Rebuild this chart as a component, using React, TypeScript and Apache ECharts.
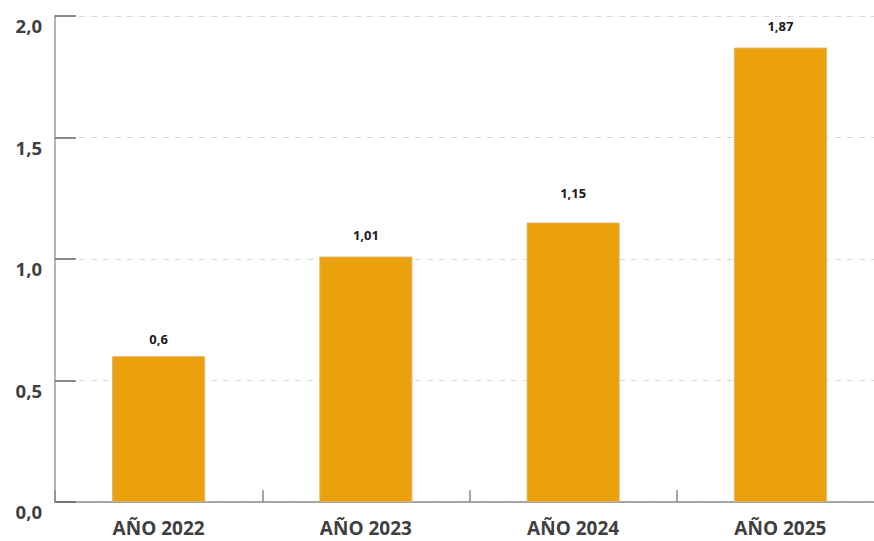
import React, { useEffect, useRef } from "react";
import * as echarts from "echarts";

const categories = ["AÑO 2022", "AÑO 2023", "AÑO 2024", "AÑO 2025"];
const values = [0.6, 1.01, 1.15, 1.87];
const yTicks = { min: 0, max: 2, interval: 0.5 };
// distance of each value label above its bar (style only)
const labelGaps = [11, 15, 23, 15];

export default function App() {
  const ref = useRef<HTMLDivElement>(null);
  useEffect(() => {
    document.body.style.margin = "0";
    const chart = echarts.init(ref.current!, undefined, { renderer: "svg" });
    chart.setOption({
      animation: false,
      grid: {
        left: 55,
        top: 16,
        width: 829,
        height: 486,
        containLabel: false,
        outerBoundsMode: "none",
      },
      xAxis: {
        type: "category",
        data: categories,
        boundaryGap: true,
        axisLine: { show: true, lineStyle: { color: "#8a8a8a", width: 1.5 } },
        axisTick: { show: true, inside: true, length: 12, alignWithLabel: false, lineStyle: { color: "#8a8a8a", width: 1.5 } },
        axisLabel: {
          margin: 16,
          fontFamily: "Open Sans",
          fontWeight: "bold",
          fontSize: 19,
          lineHeight: 19,
          color: "#404040",
        },
        splitLine: { show: false },
      },
      yAxis: {
        type: "value",
        min: yTicks.min,
        max: yTicks.max,
        interval: yTicks.interval,
        axisLine: { show: true, lineStyle: { color: "#9a9a9a", width: 1.5 } },
        axisTick: { show: true, inside: true, length: 21, lineStyle: { color: "#666666", width: 1.5 } },
        axisLabel: {
          margin: 13,
          verticalAlign: "top",
          fontFamily: "Open Sans",
          fontWeight: "bold",
          fontSize: 18.5,
          color: "#404040",
          formatter: (v: number) => v.toFixed(1).replace(".", ","),
        },
        splitLine: { show: true, lineStyle: { color: "#d9d9d9", type: [6, 6], width: 1 } },
      },
      series: [
        {
          type: "bar",
          data: values.map((v, i) => ({ value: v, label: { distance: labelGaps[i] } })),
          barWidth: 93,
          itemStyle: { color: "#EBA10C", borderColor: "#dcb36a", borderWidth: 1 },
          label: {
            show: true,
            position: "top",
            fontFamily: "Open Sans",
            fontWeight: "bold",
            fontSize: 13,
            color: "#1a1a1a",
            formatter: (p: any) => String(p.value).replace(".", ","),
          },
        },
      ],
    });
    return () => chart.dispose();
  }, []);
  return <div ref={ref} style={{ width: 874, height: 541, overflow: "hidden" }} />;
}
